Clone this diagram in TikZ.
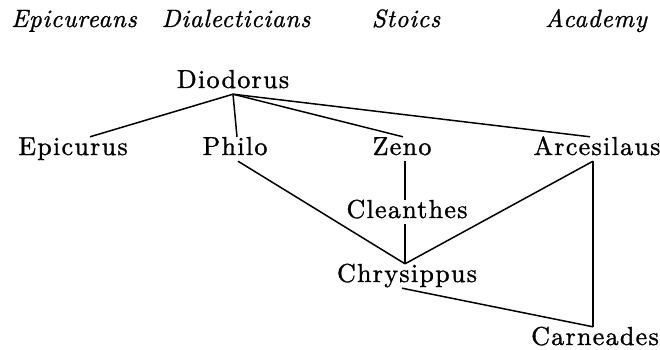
\documentclass[tikz,border=0pt]{standalone}
\usepackage{fontspec}
\setmainfont{Latin Modern Roman}
\newfontfamily\philfont{lmroman10-regular.otf}[LetterSpace=5,FakeBold=1.2]
\newfontfamily\schoolfont{lmroman10-italic.otf}[LetterSpace=3,FakeBold=1]
\begin{document}
\begin{tikzpicture}[x=1pt,y=-1pt,
  phil/.style={anchor=base,font=\philfont\fontsize{26}{30}\selectfont,inner xsep=2pt,inner ysep=2pt,text height=16pt,text depth=4pt},
  school/.style={anchor=base,font=\schoolfont\fontsize{25}{30}\selectfont,inner sep=0pt},
  link/.style={line width=1.5pt}]
\useasboundingbox (0,0) rectangle (660,350);
% school headings
\node[school] (hEpi) at (74,27) {Epicureans};
\node[school] (hDia) at (236,27) {Dialecticians};
\node[school] (hSto) at (406,27) {Stoics};
\node[school] (hAca) at (596,27) {Academy};
% philosophers
\node[phil] (Diodorus) at (233,88) {Diodorus};
\node[phil] (Epicurus) at (73,155) {Epicurus};
\node[phil] (Philo) at (235,155) {Philo};
\node[phil] (Zeno) at (402,155) {Zeno};
\node[phil] (Arcesilaus) at (597,155) {Arcesilaus};
\node[phil] (Cleanthes) at (407,218) {Cleanthes};
\node[phil] (Chrysippus) at (407,282) {Chrysippus};
\node[phil] (Carneades) at (595,345) {Carneades};
% connectors
\draw[link] (Diodorus.south) -- ([xshift=17pt]Epicurus.north);
\draw[link] (Diodorus.south) -- ([xshift=2pt]Philo.north);
\draw[link] (Diodorus.south) -- ([xshift=1pt]Zeno.north);
\draw[link] (Diodorus.south) -- ([xshift=-7pt]Arcesilaus.north);
\draw[link] ([xshift=3pt]Zeno.south) -- ([xshift=-2pt]Cleanthes.north);
\draw[link] ([xshift=-2pt]Cleanthes.south) -- ([xshift=-2pt]Chrysippus.north);
\draw[link] ([xshift=3pt]Philo.south) -- ([xshift=-2pt]Chrysippus.north);
\draw[link] ([xshift=-4pt]Arcesilaus.south) -- ([xshift=-2pt]Chrysippus.north);
\draw[link] ([xshift=-4pt]Arcesilaus.south) -- ([xshift=-2pt]Carneades.north);
\draw[link] ([xshift=-5pt]Chrysippus.south) -- ([xshift=-2pt]Carneades.north);
\end{tikzpicture}
\end{document}
